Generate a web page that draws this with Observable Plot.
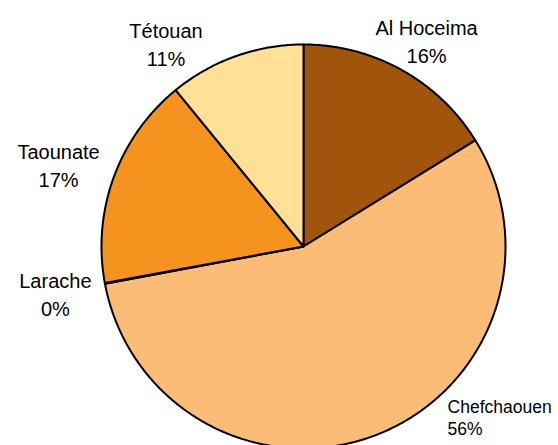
<!DOCTYPE html>
<html>
<head>
<meta charset="utf-8">
<script src="https://cdn.jsdelivr.net/npm/d3@7"></script>
<script src="https://cdn.jsdelivr.net/npm/@observablehq/plot@0.6"></script>
<style>
  html, body { margin: 0; padding: 0; background: #fff; overflow: hidden; }
  #chart svg { display: block; overflow: hidden; }
</style>
</head>
<body>
<div id="chart"></div>
<script>
// Data (clockwise from 12 o'clock)
const cities = ["Al Hoceima", "Chefchaouen", "Larache", "Taounate", "Tétouan"];
const shares = [16.2, 55.85, 0.05, 17.0, 10.9];
const percentLabels = ["16%", "56%", "0%", "17%", "11%"];
const sliceColors = ["#A0540C", "#FBBC78", "#F8A94C", "#F6921E", "#FEE096"];

// Label placement (angle in degrees clockwise from top, radius relative to pie radius)
const labelAngle = [30.8, 139.8, 259.3, 288.7, 326.0];
const labelRadius = [1.19, 1.105, 1.25, 1.28, 1.217];

const total = d3.sum(shares);
const slicePoints = [];
let cum = 0;
cities.forEach((c, i) => {
  const a0 = cum / total * 2 * Math.PI;
  cum += shares[i];
  const a1 = cum / total * 2 * Math.PI;
  const n = Math.max(2, Math.ceil((a1 - a0) / (Math.PI / 360)));
  slicePoints.push({city: c, x: 0, y: 0});
  for (let k = 0; k <= n; k++) {
    const a = a0 + (a1 - a0) * k / n;
    slicePoints.push({city: c, x: Math.sin(a), y: Math.cos(a)});
  }
  slicePoints.push({city: c, x: 0, y: 0});
});

const labels = cities.map((c, i) => {
  const a = labelAngle[i] * Math.PI / 180;
  return {city: c, text: c + "\n" + percentLabels[i], x: labelRadius[i] * Math.sin(a), y: labelRadius[i] * Math.cos(a)};
});

const chart = Plot.plot({
  width: 558,
  height: 445,
  x: {domain: [-1, 1], range: [101, 505], axis: null},
  y: {domain: [-1, 1], range: [448, 44], axis: null},
  color: {domain: cities, range: sliceColors},
  style: {fontFamily: "'Liberation Sans', Arial, sans-serif", background: "#fff"},
  marks: [
    Plot.line(slicePoints, {x: "x", y: "y", z: "city", fill: "city", stroke: "#000", strokeWidth: 2, strokeLinejoin: "round"}),
    Plot.text(labels.filter(d => d.city !== "Chefchaouen"), {x: "x", y: "y", text: "text", fontSize: 20, lineHeight: 1.4, fill: "#000", textAnchor: "middle"}),
    Plot.text(labels.filter(d => d.city === "Chefchaouen"), {x: "x", y: "y", text: "text", fontSize: 17.5, lineHeight: 1.25, fill: "#000", textAnchor: "start"})
  ]
});
document.getElementById("chart").appendChild(chart);
</script>
</body>
</html>
